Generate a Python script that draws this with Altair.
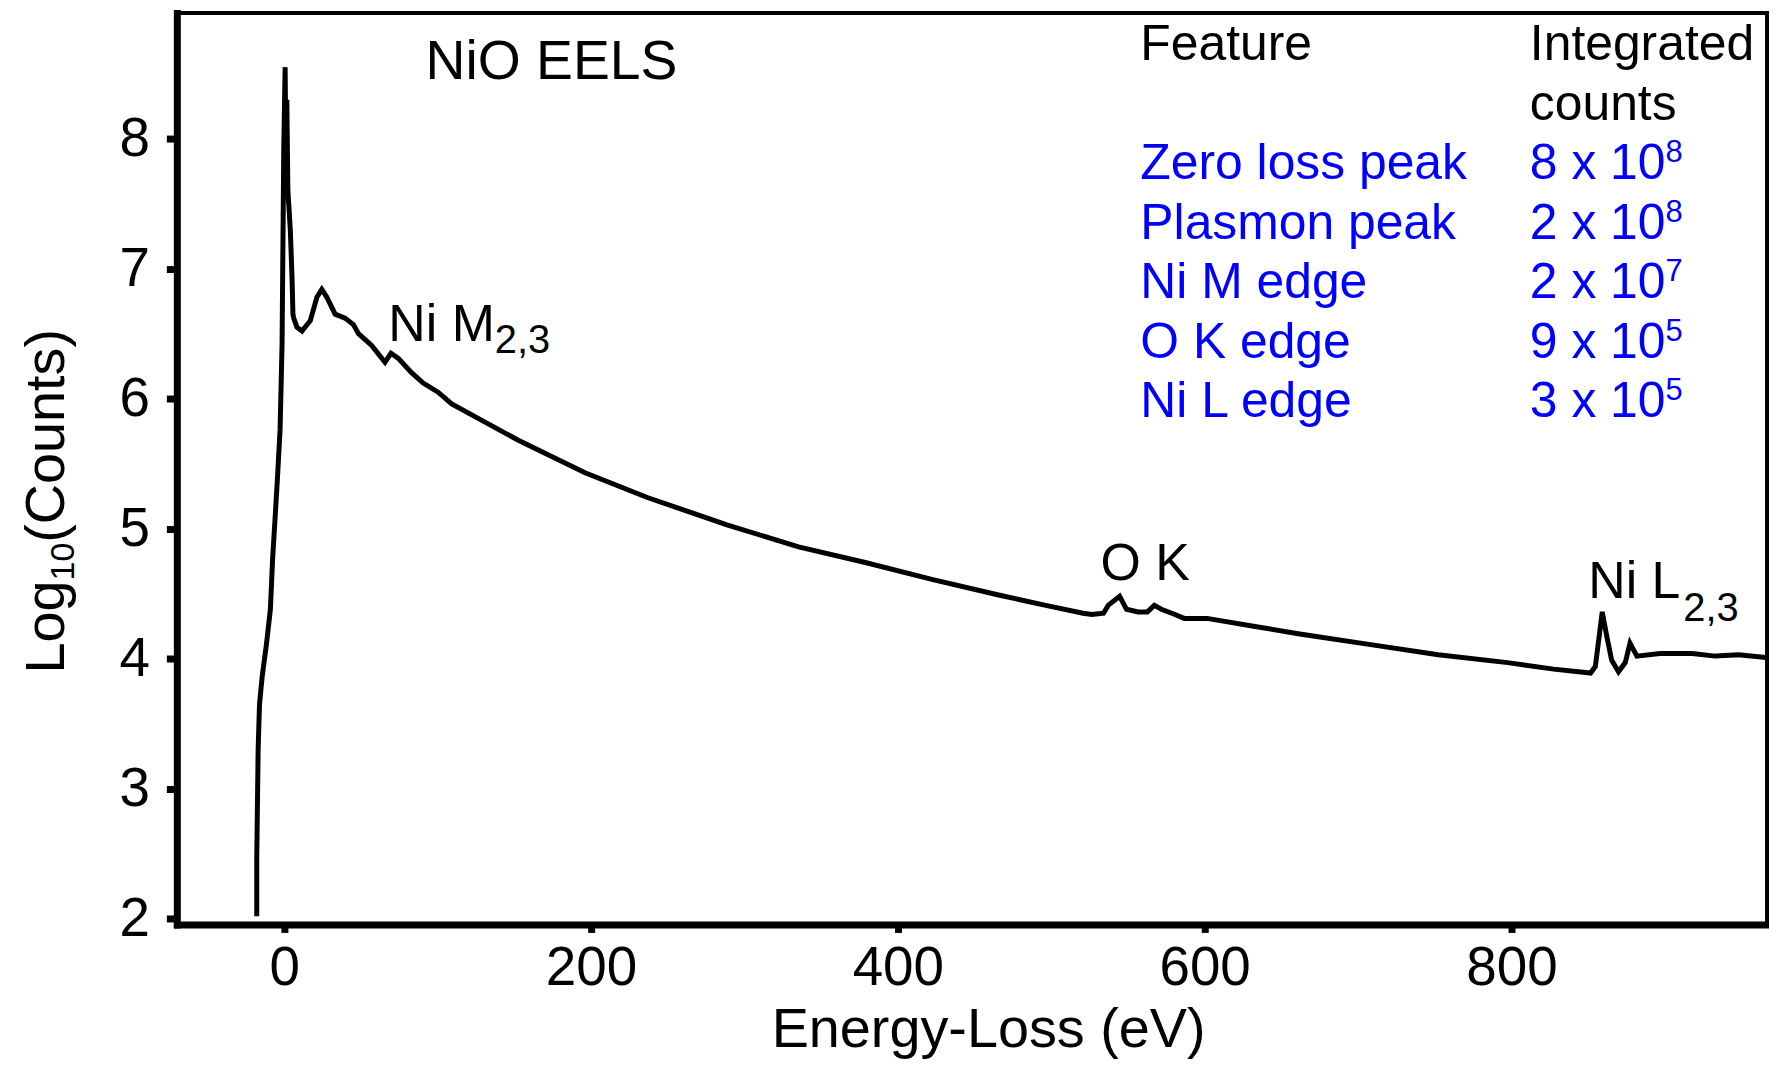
import altair as alt
import pandas as pd

# ---- spectrum ----
energy_ev = [-17.9, -17.9, -17.0, -16.1, -14.4, -11.6, -9.0, -7.6, -6.0, -4.5, -2.7, -1.4, -0.8, -0.3,
             0.6, 1.2, 1.7, 2.4, 3.2, 4.0, 5.1, 5.7, 6.2, 8.3, 11.6, 17.0, 21.3, 24.5, 27.8, 33.2,
             39.7, 45.1, 48.4, 57.0, 65.7, 69.6, 74.4, 83.0, 90.6, 100.3, 109.2, 152.6, 196.1, 236.7,
             288.6, 335.3, 378.8, 422.2, 465.7, 496.4, 520.8, 526.6, 534.1, 537.1, 544.6, 549.1,
             556.6, 562.7, 567.2, 571.8, 580.7, 586.7, 601.6, 631.9, 662.0, 707.1, 752.3, 797.5,
             827.6, 851.6, 854.7, 859.2, 862.2, 865.3, 869.8, 874.2, 877.3, 881.8, 896.8, 917.9,
             932.8, 948.0, 965.9]
log_counts = [2.02, 2.46, 3.30, 3.65, 3.86, 4.11, 4.38, 4.76, 5.07, 5.37, 5.76, 6.42, 7.23, 7.92,
              8.55, 7.75, 8.30, 7.60, 7.45, 7.29, 6.93, 6.65, 6.62, 6.55, 6.52, 6.60, 6.78, 6.84, 6.78, 6.65,
              6.62, 6.57, 6.50, 6.41, 6.28, 6.35, 6.31, 6.20, 6.12, 6.05, 5.96, 5.68, 5.43, 5.24,
              5.03, 4.86, 4.74, 4.61, 4.49, 4.41, 4.35, 4.34, 4.35, 4.41, 4.48, 4.38,
              4.36, 4.36, 4.41, 4.38, 4.34, 4.31, 4.31, 4.25, 4.19, 4.11, 4.03, 3.97,
              3.92, 3.89, 3.94, 4.36, 4.17, 3.99, 3.90, 3.97, 4.12, 4.02, 4.04, 4.04,
              4.02, 4.03, 4.01]

# ---- axes ----
x_ticks = [0, 200, 400, 600, 800]
y_ticks = [2, 3, 4, 5, 6, 7, 8]
x_domain = [-70.0, 966.6]
y_domain = [1.956, 8.966]

# ---- annotations ----
title_label = ["NiO EELS"]
title_x = [92.1]
title_y = [8.46]
peak_labels = ["Ni M", "O K", "Ni L"]
peak_label_x = [67.9, 532.1, 850.1]
peak_label_y = [6.445, 4.606, 4.468]
sub_labels = ["2,3", "2,3"]
sub_label_x = [137.3, 912.0]
sub_label_y = [6.354, 4.288]

# ---- table ----
header_feature = ["Feature"]
header_counts = ["Integrated", "counts"]
features = ["Zero loss peak", "Plasmon peak", "Ni M edge", "O K edge", "Ni L edge"]
count_mantissa = ["8 x 10", "2 x 10", "2 x 10", "9 x 10", "3 x 10"]
count_exponent = ["8", "8", "7", "5", "5"]
header_y = [8.606, 8.146]
row_y = [7.687, 7.227, 6.775, 6.315, 5.856]
col_feature_x = 558.1
col_counts_x = 812.0
col_exponent_x = 900.5

FONT = "Liberation Sans"
W, H = 1596.5, 915

xs = alt.Scale(domain=x_domain, nice=False, zero=False)
ys = alt.Scale(domain=y_domain, nice=False, zero=False)
x_enc = alt.X("x:Q", scale=xs, axis=alt.Axis(values=x_ticks, title=None, tickSize=8, labelPadding=9,
                                              labelFontSize=55))
y_enc = alt.Y("y:Q", scale=ys, axis=alt.Axis(values=y_ticks, title=None, tickSize=10.5, labelPadding=17,
                                              labelFontSize=55))

spec_df = pd.DataFrame({"x": energy_ev, "y": log_counts, "o": list(range(len(energy_ev)))})
line = alt.Chart(spec_df).mark_line(color="black", strokeWidth=5, clip=True).encode(
    x=x_enc, y=y_enc, order="o:Q")


def text_layer(labels, xv, yv, size, color="black", dy=0):
    df = pd.DataFrame({"x": xv, "y": yv, "t": labels})
    return alt.Chart(df).mark_text(align="left", baseline="alphabetic", font=FONT, fontSize=size,
                                   color=color, dy=dy).encode(x=x_enc, y=y_enc, text="t:N")


ttl = text_layer(title_label, title_x, title_y, 55.5)
peaks = text_layer(peak_labels, peak_label_x, peak_label_y, 52)
subs = text_layer(sub_labels, sub_label_x, sub_label_y, 40)
hdr1 = text_layer(header_feature, [col_feature_x], [header_y[0]], 50)
hdr2 = text_layer(header_counts, [col_counts_x] * 2, header_y, 50)
feat = text_layer(features, [col_feature_x] * 5, row_y, 50, color="#0000ff")
mant = text_layer(count_mantissa, [col_counts_x] * 5, row_y, 50, color="#0000ff")
expo = text_layer(count_exponent, [col_exponent_x] * 5, row_y, 31, color="#0000ff", dy=-17)


def pixel_text(label, px, py, size, angle=0, align="left"):
    df = pd.DataFrame({"t": [label]})
    return alt.Chart(df).mark_text(align=align, baseline="alphabetic", font=FONT, fontSize=size,
                                   angle=angle, color="black").encode(
        x=alt.value(px), y=alt.value(py), text="t:N")


# axis titles drawn as text (y title carries a subscript)
x_title = pixel_text("Energy-Loss (eV)", 815, 1038, 56, align="center")
yt_log = pixel_text("Log", -113.5, 663, 56, angle=270)
yt_sub = pixel_text("10", -103.5, 663 - 93.4, 34, angle=270)
yt_rest = pixel_text("(Counts)", -113.5, 663 - 93.4 - 37.8, 56, angle=270)

chart = alt.layer(line, ttl, peaks, subs, hdr1, hdr2, feat, mant, expo,
                  x_title, yt_log, yt_sub, yt_rest).properties(
    width=W, height=H,
    autosize=alt.AutoSizeParams(type="none"),
    padding={"left": 169.5, "top": 3, "right": 2, "bottom": 135},
).configure_view(stroke="black", strokeWidth=4).configure_axis(
    grid=False, domainColor="black", domainWidth=7, domainCap="square", tickColor="black", tickWidth=7,
    labelFont=FONT, labelColor="black", titleFont=FONT
)

chart.save("out.html", embed_options={"renderer": "svg", "actions": False})
